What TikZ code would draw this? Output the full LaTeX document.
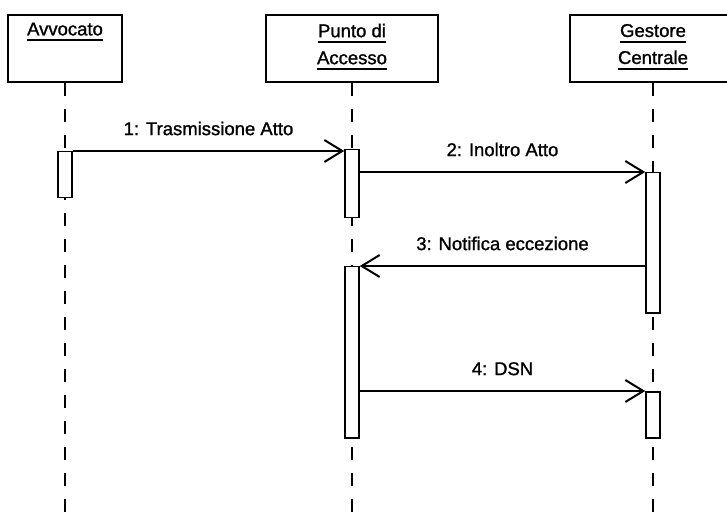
\documentclass[tikz,border=0pt]{standalone}
\usepackage{fontspec}
\setmainfont{Liberation Sans}
\newfontfamily\scanfont[FakeBold=1.2]{Liberation Sans}
\usetikzlibrary{arrows.meta}

\newcommand{\ulname}[1]{\setbox0=\hbox{#1}\rlap{\rule[-6pt]{\wd0}{2pt}}\box0}

\tikzset{
  objbox/.style={draw, line width=1.8pt, fill=white, inner sep=0pt, minimum height=67pt, anchor=north},
  objname/.style={font=\scanfont\fontsize{18.5}{27}\selectfont, align=center, inner sep=0pt},
  lifeline/.style={line width=1.8pt, dash pattern=on 13pt off 13pt},
  actbar/.style={draw, line width=1.5pt, fill=white, minimum width=14pt, inner sep=0pt, anchor=north},
  msg/.style={line width=1.4pt, -{Straight Barb[length=18pt, width=22pt, line width=2pt]}},
  msglabel/.style={font=\scanfont\fontsize{18.5}{22}\selectfont, inner sep=0pt, above=15pt}
}

\begin{document}
\begin{tikzpicture}[x=1pt, y=-1pt]
    \useasboundingbox (0,0) rectangle (727,518);
    \clip (0,0) rectangle (727,518);

    % Objects
    \node[objbox, minimum width=114pt] (avv) at (65,14) {};
    \node[objbox, minimum width=172pt] (pda) at (352,14) {};
    \node[objbox, minimum width=166pt] (gc) at (653,14) {};
    \node[objname] (avvname) at (65,32) {\ulname{Avvocato}};
    \node[objname] (pdaname) at (352,47) {\ulname{Punto di}\\\ulname{Accesso}};
    \node[objname] (gcname) at (653,47) {\ulname{Gestore}\\\ulname{Centrale}};

    % Lifelines
    \coordinate (bottom) at (0,518);
    \draw[lifeline] (avv.south) -- (avv.south |- bottom);
    \draw[lifeline] (pda.south) -- (pda.south |- bottom);
    \draw[lifeline] (gc.south) -- (gc.south |- bottom);

    % Activations
    \node[actbar, minimum height=46pt] (avvbar) at (65,151) {};
    \node[actbar, minimum height=68pt] (pdabar1) at (352,149) {};
    \node[actbar, minimum height=140pt] (gcbar1) at (653,172) {};
    \node[actbar, minimum height=171pt] (pdabar2) at (352,266) {};
    \node[actbar, minimum height=46pt] (gcbar2) at (653,391) {};

    % Messages
    \draw[msg] (avvbar.north east) -- (avvbar.north east -| pdabar1.west)
        node[msglabel, midway] (m1) {1: Trasmissione Atto};
    \draw[msg] (gcbar1.north west -| pdabar1.east) -- (gcbar1.north west)
        node[msglabel, midway] (m2) {2: Inoltro Atto};
    \draw[msg] (pdabar2.north east -| gcbar1.west) -- (pdabar2.north east)
        node[msglabel, midway] (m3) {3: Notifica eccezione};
    \draw[msg] (gcbar2.north west -| pdabar2.east) -- (gcbar2.north west)
        node[msglabel, midway] (m4) {4: DSN};
\end{tikzpicture}
\end{document}
